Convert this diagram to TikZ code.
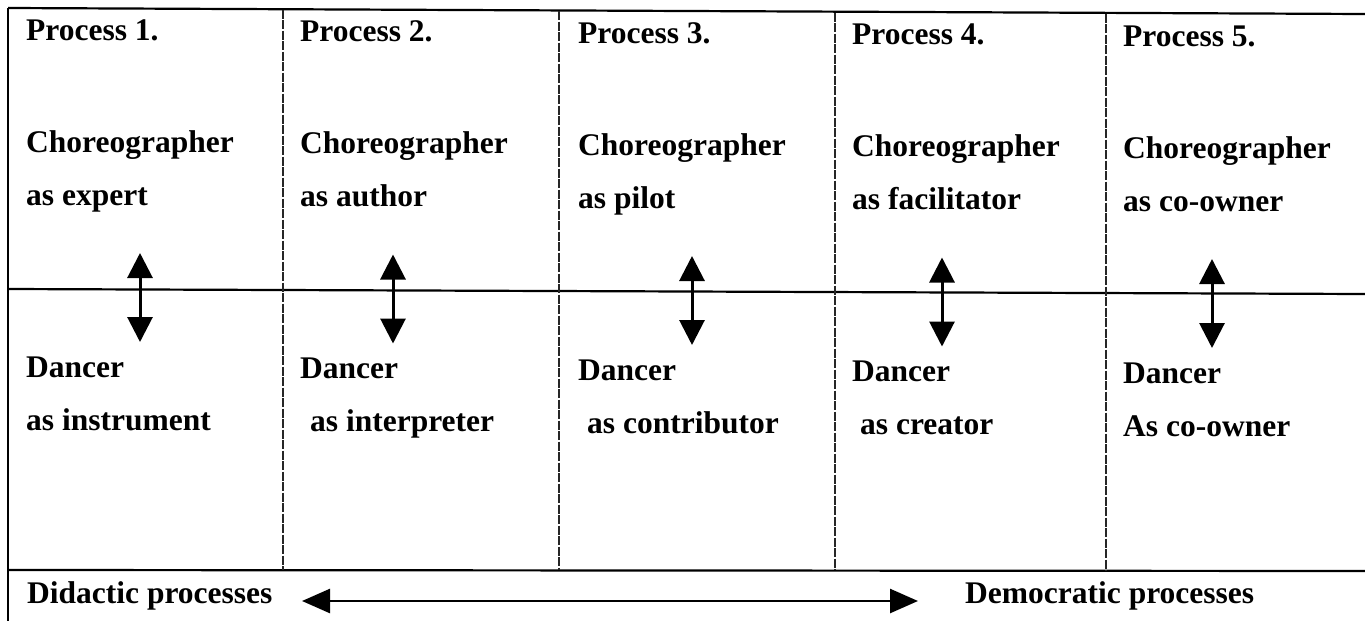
\documentclass[tikz,border=0pt]{standalone}
\usepackage{fontspec}
\setmainfont{Liberation Serif}
\usetikzlibrary{arrows.meta}
\begin{document}
\begin{tikzpicture}[x=1pt,y=-1pt,
  txt/.style={anchor=base west,inner sep=0pt,font=\fontsize{31.5}{36}\selectfont\bfseries},
  rule/.style={line width=2.2pt},
  colrule/.style={line width=1.1pt,dash pattern=on 9pt off 1.5pt,black!85},
  vdbl/.style={line width=3pt,{Triangle[width=25pt,length=25pt]}-{Triangle[width=25pt,length=25pt]}},
  hdbl/.style={line width=2.6pt,{Triangle[width=24pt,length=28pt]}-{Triangle[width=24pt,length=28pt]}}]
\useasboundingbox (0,0) rectangle (1365,621);
% frame
\coordinate (tl) at (8,8);
\coordinate (tr) at (1365,14);
\coordinate (ml) at (8,289);
\coordinate (mr) at (1365,294);
\coordinate (bl) at (8,570);
\coordinate (br) at (1365,571);
\coordinate (ll) at (8,621);
\draw[rule] (tl) -- (tr);
\draw[rule] (ml) -- (mr);
\draw[rule] (bl) -- (br);
\draw[line width=2pt] (tl) -- (ll);
% column rules
\foreach \x/\a/\b in {283/9.5/570, 559/11/570, 835/12.5/570, 1106/13.5/571}{
  \draw[colrule] (\x,\a) -- (\x,\b);
}
% column texts
\foreach \i/\tx/\ax/\dx/\dy/\role/\drole in {
  1/26/140/26/0/as expert/as instrument,
  2/300/393/310/1.5/as author/as interpreter,
  3/578/692/587/3/as pilot/as contributor,
  4/852/942/860/4.5/as facilitator/as creator,
  5/1123/1212/1123/6/as co-owner/As co-owner}{
  \node[txt] (p\i) at (\tx,40+\dy) {Process \i.};
  \node[txt] (c\i) at (\tx,152+\dy) {Choreographer};
  \node[txt] (ca\i) at (\tx,205+\dy) {\role};
  \node[txt] (d\i) at (\tx,377+\dy) {Dancer};
  \node[txt] (da\i) at (\dx,430+\dy) {\drole};
  \coordinate (at\i) at (\ax,253+\dy);
  \coordinate (ab\i) at (\ax,342+\dy);
  \draw[vdbl] (at\i) -- (ab\i);
}
% bottom row
\node[txt] (did) at (27,603) {Didactic processes};
\node[txt] (dem) at (965,603) {Democratic processes};
\coordinate (hl) at (302,601);
\coordinate (hr) at (918,601);
\draw[hdbl] (hl) -- (hr);
\end{tikzpicture}
\end{document}
